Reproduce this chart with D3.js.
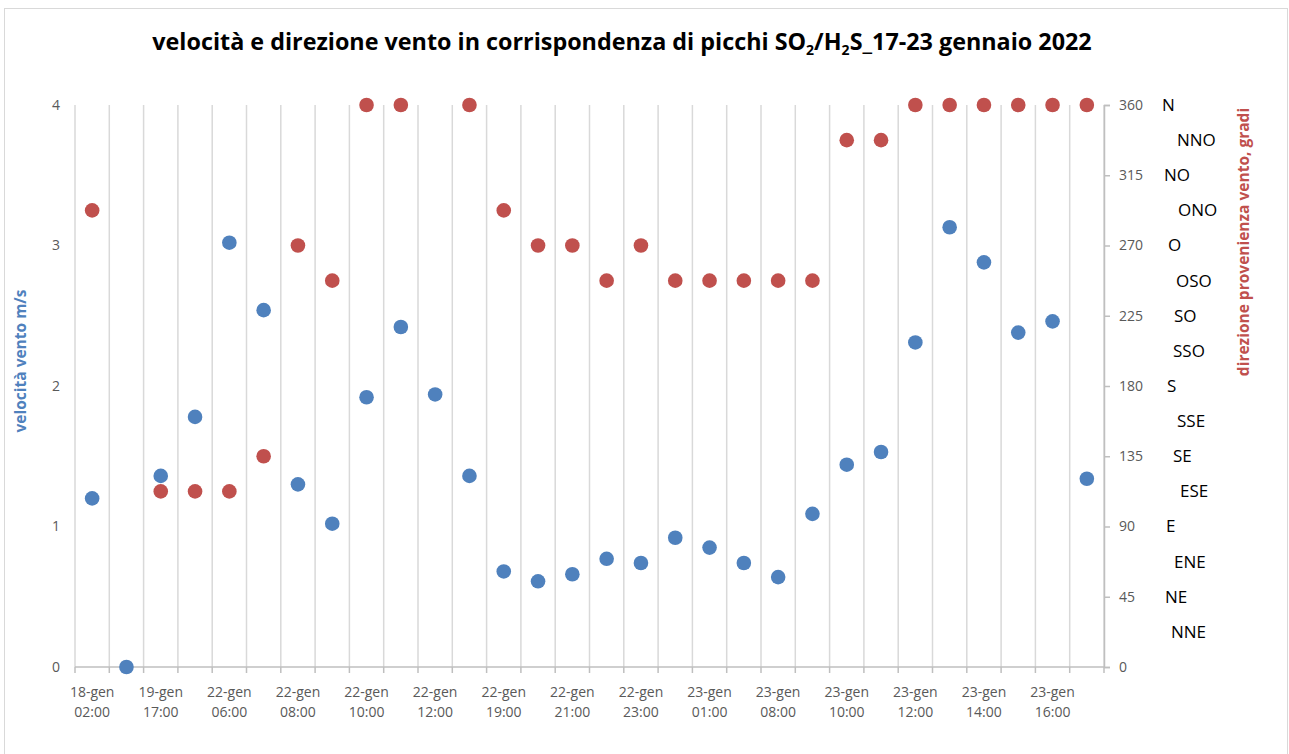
<!DOCTYPE html>
<html>
<head>
<meta charset="utf-8">
<script src="https://cdn.jsdelivr.net/npm/d3@7"></script>
<style>
  body { margin: 0; background: #fff; }
  svg { display: block; font-family: "Open Sans", Lato, sans-serif; }
</style>
</head>
<body>
<div id="chart"></div>
<script>
// every second category carries a visible label; the others are unlabelled in the original
var tickLabels = ["18-gen 02:00", "19-gen 17:00", "22-gen 06:00", "22-gen 08:00", "22-gen 10:00",
    "22-gen 12:00", "22-gen 19:00", "22-gen 21:00", "22-gen 23:00", "23-gen 01:00",
    "23-gen 08:00", "23-gen 10:00", "23-gen 12:00", "23-gen 14:00", "23-gen 16:00"];

// wind speed, m/s
var speed = [1.20, 0.00, 1.36, 1.78, 3.02, 2.54, 1.30, 1.02, 1.92, 2.42,
    1.94, 1.36, 0.68, 0.61, 0.66, 0.77, 0.74, 0.92, 0.85, 0.74,
    0.64, 1.09, 1.44, 1.53, 2.31, 3.13, 2.88, 2.38, 2.46, 1.34];

// wind direction, degrees (null = no value)
var direction = [292.5, null, 112.5, 112.5, 112.5, 135, 270, 247.5, 360, 360,
    null, 360, 292.5, 270, 270, 247.5, 270, 247.5, 247.5, 247.5,
    247.5, 247.5, 337.5, 337.5, 360, 360, 360, 360, 360, 360];

var speedTicks = [0, 1, 2, 3, 4];
var dirTicks = [0, 45, 90, 135, 180, 225, 270, 315, 360];
var compass = ["N", "NNO", "NO", "ONO", "O", "OSO", "SO", "SSO", "S", "SSE", "SE", "ESE", "E", "ENE", "NE", "NNE"];
var compassOffset = [0, 15, 2, 16, 6, 14, 12, 11, 5, 15, 11, 18, 4, 12, 3, 9];

var W = 1289, H = 754;
var margin = {top: 105, right: 185, bottom: 87, left: 75};
var width = W - margin.left - margin.right,
    height = H - margin.top - margin.bottom;

var blue = "#4F81BD", red = "#C0504D";

var svg = d3.select("#chart").append("svg")
    .attr("width", W)
    .attr("height", H);

// outer frame
svg.append("rect")
    .attr("x", 4.5).attr("y", 8.5)
    .attr("width", 1283).attr("height", 760)
    .attr("fill", "none")
    .attr("stroke", "#D9D9D9");

var g = svg.append("g")
    .attr("transform", "translate(" + margin.left + "," + margin.top + ")");

var x = d3.scaleBand()
    .domain(d3.range(speed.length))
    .range([0, width]);

var ySpeed = d3.scaleLinear().domain([0, 4]).range([height, 0]);
var yDir = d3.scaleLinear().domain([0, 360]).range([height, 0]);

// vertical gridlines at category boundaries
var bounds = d3.range(speed.length + 1).map(function(i){ return i * x.step(); });
g.selectAll(".vgrid")
    .data(bounds)
    .enter().append("line")
    .attr("class", "vgrid")
    .attr("x1", function(d){ return d; })
    .attr("x2", function(d){ return d; })
    .attr("y1", 0)
    .attr("y2", height)
    .attr("stroke", "#D9D9D9")
    .attr("stroke-width", 1.5);

// x axis line + ticks
g.append("line")
    .attr("x1", 0).attr("x2", width)
    .attr("y1", height).attr("y2", height)
    .attr("stroke", "#BFBFBF").attr("stroke-width", 1.5);
g.selectAll(".xtick")
    .data(bounds)
    .enter().append("line")
    .attr("x1", function(d){ return d; })
    .attr("x2", function(d){ return d; })
    .attr("y1", height).attr("y2", height + 6)
    .attr("stroke", "#BFBFBF").attr("stroke-width", 1.5);

// x labels, two lines
var xl = g.selectAll(".xlab")
    .data(tickLabels)
    .enter().append("text")
    .attr("text-anchor", "middle")
    .attr("fill", "#595959")
    .attr("font-size", 14);
xl.each(function(d, i){
    var cx = x(i * 2) + x.bandwidth() / 2;
    var parts = d.split(" ");
    d3.select(this).append("tspan").attr("x", cx).attr("y", height + 30).text(parts[0]);
    d3.select(this).append("tspan").attr("x", cx).attr("y", height + 50).text(parts[1]);
});

// left axis labels
g.selectAll(".ylab")
    .data(speedTicks)
    .enter().append("text")
    .attr("x", -15)
    .attr("y", function(d){ return ySpeed(d); })
    .attr("dy", "0.35em")
    .attr("text-anchor", "end")
    .attr("fill", "#595959")
    .attr("font-size", 14)
    .text(function(d){ return d; });

// right axis
var rightAxis = g.append("g")
    .attr("transform", "translate(" + width + ",0)")
    .call(d3.axisRight(yDir).tickValues(dirTicks).tickSize(6).tickPadding(9));
rightAxis.select(".domain").attr("stroke", "#BFBFBF").attr("stroke-width", 1.5);
rightAxis.selectAll(".tick line").attr("stroke", "#BFBFBF").attr("stroke-width", 1.5);
rightAxis.selectAll(".tick text")
    .attr("fill", "#595959")
    .attr("font-size", 14)
    .attr("font-family", "'Open Sans', Lato, sans-serif");

// compass labels
g.selectAll(".compass")
    .data(compass)
    .enter().append("text")
    .attr("x", function(d, i){ return width + 58 + compassOffset[i]; })
    .attr("y", function(d, i){ return yDir(360 - 22.5 * i); })
    .attr("dy", "0.35em")
    .attr("fill", "#000")
    .attr("font-size", 17)
    .text(function(d){ return d; });

// points: direction first, speed on top
g.selectAll(".dir")
    .data(direction.map(function(v, i){ return {i: i, v: v}; }).filter(function(d){ return d.v !== null; }))
    .enter().append("circle")
    .attr("cx", function(d){ return x(d.i) + x.bandwidth() / 2; })
    .attr("cy", function(d){ return yDir(d.v); })
    .attr("r", 7.3)
    .attr("fill", red);

g.selectAll(".spd")
    .data(speed)
    .enter().append("circle")
    .attr("cx", function(d, i){ return x(i) + x.bandwidth() / 2; })
    .attr("cy", function(d){ return ySpeed(d); })
    .attr("r", 7.3)
    .attr("fill", blue);

// axis titles
svg.append("text")
    .attr("transform", "translate(26,361) rotate(-90)")
    .attr("text-anchor", "middle")
    .attr("fill", blue)
    .attr("font-weight", "bold")
    .attr("font-size", 15.5)
    .text("velocità vento m/s");

svg.append("text")
    .attr("transform", "translate(1249,242) rotate(-90)")
    .attr("text-anchor", "middle")
    .attr("fill", red)
    .attr("font-weight", "bold")
    .attr("font-size", 15.5)
    .text("direzione provenienza vento, gradi");

// title with subscripts
var title = svg.append("text")
    .attr("x", 622)
    .attr("y", 50)
    .attr("text-anchor", "middle")
    .attr("font-weight", "bold")
    .attr("font-size", 22)
    .attr("fill", "#000");
title.append("tspan").text("velocità e direzione vento in corrispondenza di picchi SO");
title.append("tspan").attr("font-size", 14).attr("dy", 5).text("2");
title.append("tspan").attr("dy", -5).text("/H");
title.append("tspan").attr("font-size", 14).attr("dy", 5).text("2");
title.append("tspan").attr("dy", -5).text("S_17-23 gennaio 2022");

// fit title to the original width
var tw = title.node().getComputedTextLength();
var fs = 22 * 941 / tw;
title.attr("font-size", fs);
</script>
</body>
</html>
